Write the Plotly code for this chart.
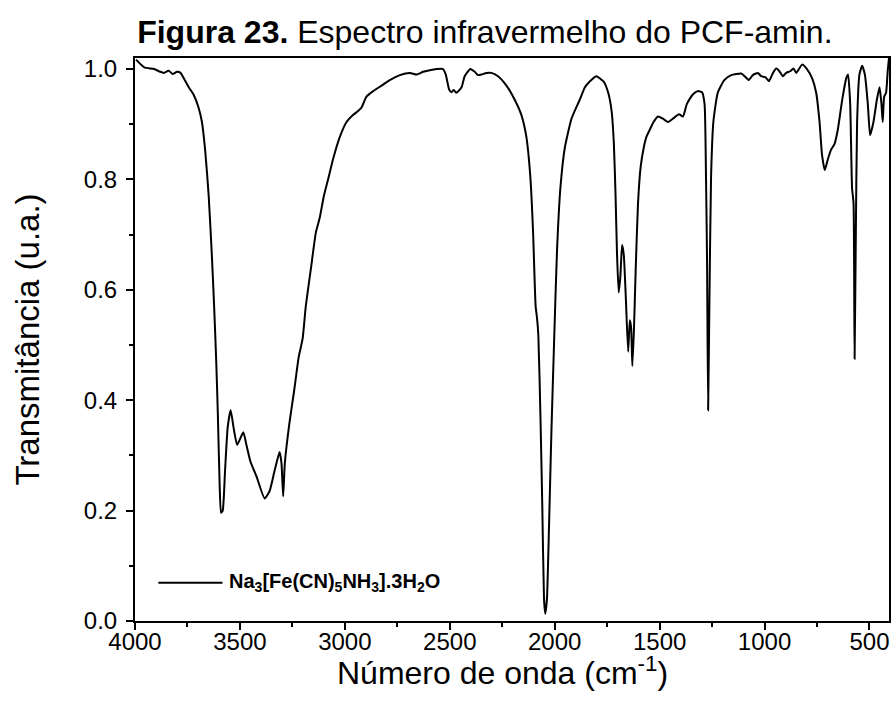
import plotly.graph_objects as go

# Wavenumber (cm-1) and transmittance (a.u.)
wavenumber = [
    3995, 3956, 3909, 3880, 3862, 3840, 3820, 3800, 3783, 3767, 3744, 3720, 3697,
    3681, 3665, 3649, 3634, 3623, 3613, 3605, 3597, 3590, 3582, 3571, 3558, 3544,
    3531, 3513, 3484, 3469, 3450, 3421, 3382, 3358, 3335, 3311, 3302, 3294, 3286,
    3264, 3241, 3220, 3201, 3186, 3162, 3138, 3120, 3100, 3080, 3056, 3024, 2992,
    2960, 2937, 2921, 2897, 2865, 2825, 2786, 2738, 2690, 2659, 2627, 2595, 2532,
    2519, 2503, 2492, 2481, 2468, 2444, 2429, 2402, 2381, 2365, 2349, 2325, 2302,
    2270, 2230, 2190, 2159, 2135, 2116, 2103, 2091, 2084, 2078, 2068, 2059, 2051,
    2045, 2037, 2027, 2016, 2003, 1989, 1973, 1952, 1920, 1881, 1856, 1832, 1801,
    1785, 1766, 1745, 1729, 1718, 1710, 1703, 1695, 1687, 1679, 1671, 1661, 1650,
    1642, 1636, 1630, 1622, 1614, 1603, 1590, 1576, 1563, 1547, 1529, 1508, 1484,
    1460, 1437, 1408, 1389, 1370, 1342, 1318, 1298, 1286, 1279, 1274, 1269, 1263,
    1255, 1244, 1223, 1192, 1159, 1111, 1095, 1075, 1056, 1032, 1016, 995, 979,
    960, 944, 929, 913, 897, 878, 862, 849, 821, 798, 773, 754, 738, 726, 713, 698,
    683, 667, 651, 630, 611, 602, 592, 583, 576, 571, 565, 559, 548, 535, 522, 508,
    497, 481, 465, 452, 443, 437, 430, 421, 413, 407,
]
transmittance = [
    1.017, 1.003, 1.000, 0.995, 0.993, 0.997, 0.991, 0.995, 0.993, 0.983, 0.967, 0.953, 0.930,
    0.904, 0.850, 0.771, 0.664, 0.571, 0.472, 0.372, 0.252, 0.196, 0.200, 0.272, 0.352, 0.382,
    0.352, 0.319, 0.342, 0.319, 0.289, 0.262, 0.222, 0.236, 0.272, 0.306, 0.286, 0.226, 0.286,
    0.359, 0.419, 0.478, 0.512, 0.571, 0.638, 0.704, 0.730, 0.770, 0.800, 0.837, 0.877, 0.904,
    0.917, 0.924, 0.930, 0.950, 0.960, 0.970, 0.980, 0.989, 0.993, 0.990, 0.995, 0.998, 1.000,
    0.990, 0.963, 0.958, 0.962, 0.957, 0.967, 0.987, 1.000, 0.995, 0.989, 0.990, 0.993, 0.993,
    0.987, 0.970, 0.944, 0.917, 0.877, 0.804, 0.704, 0.571, 0.548, 0.518, 0.372, 0.206, 0.040,
    0.013, 0.040, 0.173, 0.339, 0.505, 0.671, 0.784, 0.857, 0.910, 0.944, 0.967, 0.978, 0.987,
    0.983, 0.977, 0.957, 0.924, 0.864, 0.771, 0.664, 0.595, 0.625, 0.681, 0.664, 0.585, 0.488,
    0.545, 0.532, 0.462, 0.532, 0.638, 0.757, 0.824, 0.857, 0.877, 0.890, 0.904, 0.914, 0.910,
    0.904, 0.910, 0.918, 0.914, 0.937, 0.954, 0.960, 0.958, 0.937, 0.804, 0.651, 0.382, 0.571,
    0.804, 0.904, 0.957, 0.980, 0.989, 0.992, 0.987, 0.980, 0.989, 0.993, 0.987, 0.985, 0.978,
    0.993, 1.001, 0.996, 0.987, 0.993, 0.996, 1.001, 0.993, 1.008, 1.000, 0.983, 0.957, 0.904, 0.844, 0.817, 0.837,
    0.854, 0.864, 0.890, 0.944, 0.983, 0.990, 0.937, 0.784, 0.757, 0.475, 0.704, 0.904, 0.990, 1.006, 0.990, 0.937,
    0.880, 0.904, 0.944, 0.967, 0.937, 0.904, 0.950, 0.957, 0.997, 1.020,
]

x_ticks = [4000, 3500, 3000, 2500, 2000, 1500, 1000, 500]
y_ticks = [0.0, 0.2, 0.4, 0.6, 0.8, 1.0]
series_name = "Na<sub>3</sub>[Fe(CN)<sub>5</sub>NH<sub>3</sub>].3H<sub>2</sub>O"

FONT = "Liberation Sans, Arial, sans-serif"

fig = go.Figure()
fig.add_trace(go.Scatter(
    x=wavenumber, y=transmittance, mode="lines", name=series_name,
    line=dict(color="black", width=2, shape="spline", smoothing=0.5), showlegend=False,
))

# legend drawn as a line sample + label
fig.add_shape(type="line", xref="paper", yref="paper",
              x0=0.031, x1=0.116, y0=0.068, y1=0.068,
              line=dict(color="black", width=2))
fig.add_annotation(xref="paper", yref="paper", x=0.122, y=0.068,
                   xanchor="left", yanchor="middle", showarrow=False,
                   text="<b>" + series_name + "</b>",
                   font=dict(family=FONT, size=20, color="black"))

# x-axis title placed as an annotation for exact positioning
fig.add_annotation(xref="paper", yref="paper", x=0.487, y=-0.089,
                   xanchor="center", yanchor="middle", showarrow=False,
                   text="Número de onda (cm<sup>-1</sup>)",
                   font=dict(family=FONT, size=32, color="black"))

axis_common = dict(
    showline=True, linecolor="black", linewidth=2, mirror=True,
    ticks="outside", tickcolor="black", tickwidth=2, ticklen=7,
    showgrid=False, zeroline=False,
    tickfont=dict(family=FONT, size=24, color="black"),
)

fig.update_xaxes(
    range=[4000, 407], tickvals=x_ticks, ticktext=[str(v) for v in x_ticks],
    minor=dict(ticks="outside", ticklen=4, tickwidth=2, tickcolor="black", dtick=250, tick0=0),
    ticklabelstandoff=-9,
    **axis_common,
)
fig.update_yaxes(
    range=[0.0, 1.02], tickvals=y_ticks, ticktext=[f"{v:.1f}" for v in y_ticks],
    minor=dict(ticks="outside", ticklen=4, tickwidth=2, tickcolor="black", dtick=0.1, tick0=0),
    ticklabelstandoff=4,
    title=dict(text="Transmitância (u.a.)",
               font=dict(family=FONT, size=33, color="black"), standoff=34),
    **axis_common,
)

fig.update_layout(
    width=891, height=713,
    margin=dict(l=135, r=2, t=58, b=92, autoexpand=False),
    paper_bgcolor="white", plot_bgcolor="white",
    title=dict(text="<b>Figura 23.</b> Espectro infravermelho do PCF-amin.",
               x=0.464, xanchor="center", xref="paper", y=0.955, yanchor="middle",
               yref="container",
               font=dict(family=FONT, size=32, color="black")),
)

fig.write_html("out.html")
